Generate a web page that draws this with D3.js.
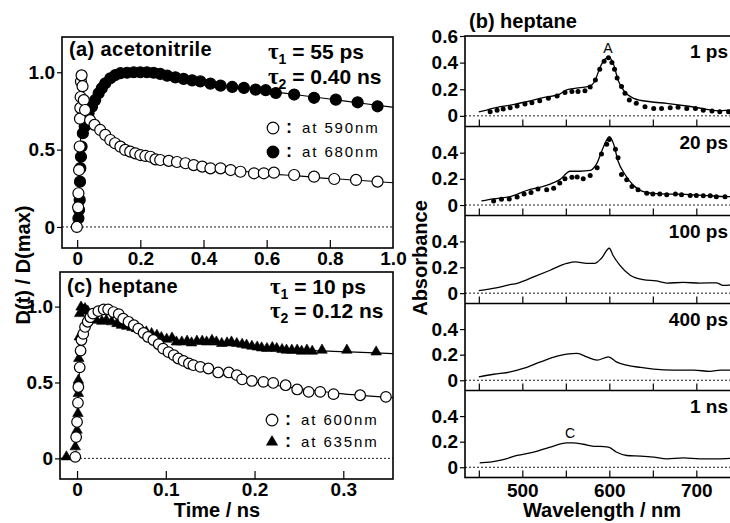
<!DOCTYPE html>
<html>
<head>
<meta charset="utf-8">
<script src="https://cdn.jsdelivr.net/npm/d3@7"></script>
<style>
body { margin: 0; background: #fff; }
text { font-family: "Liberation Sans", Arial, sans-serif; }
</style>
</head>
<body>
<div id="chart"></div>
<script>
// ---- panel (a): acetonitrile kinetics ----
var a590T = [-0.001,0.003,0.004,0.006,0.008,0.009,0.010,0.011,0.012,0.014,0.017,0.021,
  0.025,0.041,0.055,0.073,0.089,0.105,0.12,0.137,0.152,0.168,0.184,0.2,0.216,0.232,0.248,0.263,
  0.29,0.316,0.343,0.369,0.396,0.422,0.454,0.486,0.517,0.56,0.591,0.623,0.687,0.75,0.814,0.883,0.951];
var a590V = [0,0.127,0.218,0.368,0.52,0.70,0.77,0.84,0.94,0.98,0.91,0.82,
  0.756,0.69,0.66,0.627,0.595,0.562,0.541,0.519,0.498,0.487,0.476,0.465,0.459,0.454,0.437,0.433,
  0.427,0.42,0.412,0.40,0.39,0.379,0.379,0.368,0.357,0.347,0.347,0.351,0.336,0.325,0.31,0.304,0.293];
var a680T = [0.004,0.006,0.008,0.009,0.010,0.012,0.014,0.018,
  0.024,0.03,0.036,0.047,0.057,0.068,0.078,0.089,0.105,0.121,0.137,0.158,0.179,0.2,0.221,0.242,
  0.263,0.285,0.311,0.337,0.364,0.39,0.422,0.454,0.491,0.528,0.565,0.597,0.629,0.687,0.75,0.819,0.888,0.951];
var a680V = [0.056,0.11,0.175,0.293,0.38,0.454,0.52,0.606,
  0.65,0.70,0.735,0.778,0.82,0.864,0.897,0.929,0.961,0.982,0.994,0.997,1.0,1.0,1.0,0.997,
  0.99,0.978,0.967,0.957,0.948,0.941,0.927,0.914,0.905,0.899,0.888,0.884,0.866,0.856,0.835,0.823,0.806,0.78];
var fitA590T = [0.013,0.03,0.05,0.1,0.2,0.3,0.4,0.5,0.6,0.7,0.8,0.9,1.0];
var fitA590V = [0.98,0.73,0.67,0.57,0.465,0.42,0.39,0.365,0.345,0.33,0.313,0.30,0.286];
var fitA680T = [0.004,0.012,0.03,0.06,0.1,0.15,0.2,0.3,0.4,0.5,0.6,0.7,0.8,0.9,1.0];
var fitA680V = [0,0.6,0.7,0.83,0.95,0.995,1.0,0.972,0.938,0.905,0.88,0.853,0.827,0.80,0.774];

// ---- panel (c): heptane kinetics ----
var c600T = [-0.002,-0.001,0.0,0.001,0.0015,0.003,0.004,0.005,0.007,0.009,0.012,0.015,0.018,0.024,0.03,
  0.035,0.041,0.047,0.052,0.058,0.064,0.069,0.075,0.08,0.086,0.092,0.097,0.103,0.109,0.114,
  0.12,0.126,0.131,0.139,0.148,0.159,0.171,0.18,0.186,0.197,0.21,0.221,0.235,0.248,0.261,0.274,0.289,0.319,0.348];
var c600V = [0.01,0.14,0.24,0.366,0.47,0.6,0.71,0.78,0.82,0.866,0.9,0.93,0.954,0.97,0.982,
  0.982,0.964,0.95,0.92,0.9,0.877,0.855,0.826,0.8,0.78,0.752,0.723,0.70,0.68,0.658,
  0.642,0.625,0.614,0.603,0.592,0.566,0.566,0.548,0.52,0.51,0.504,0.497,0.482,0.454,0.438,0.438,0.423,0.416,0.405];
var c635T = [-0.012,-0.002,0.0,0.001,0.0015,0.0015,0.002,0.0025,0.003,0.0045,0.007,0.009,0.012,0.017,0.022,0.028,
  0.033,0.039,0.045,0.05,0.056,0.062,0.067,0.073,0.078,0.084,0.09,0.095,0.101,0.107,0.112,
  0.118,0.124,0.129,0.135,0.141,0.146,0.152,0.157,0.163,0.169,0.174,0.18,0.186,0.191,0.197,
  0.203,0.208,0.214,0.22,0.225,0.231,0.236,0.242,0.248,0.253,0.259,0.265,0.276,0.304,0.337];
var c635V = [0.01,0.076,0.186,0.296,0.428,0.515,0.658,0.8,0.954,0.997,0.976,0.987,0.971,0.943,0.91,0.903,
  0.91,0.9,0.888,0.877,0.87,0.862,0.855,0.844,0.833,0.822,0.811,0.796,0.785,0.793,0.767,
  0.767,0.772,0.761,0.772,0.772,0.767,0.778,0.767,0.757,0.761,0.767,0.757,0.752,0.746,0.739,
  0.734,0.728,0.724,0.73,0.724,0.717,0.713,0.713,0.713,0.706,0.713,0.706,0.713,0.713,0.701];
var fitC600T = [-0.019,-0.002,0.003,0.01,0.02,0.032,0.04,0.06,0.08,0.1,0.12,0.15,0.2,0.25,0.3,0.356];
var fitC600V = [0,0,0.6,0.88,0.96,0.985,0.97,0.89,0.80,0.715,0.645,0.575,0.505,0.46,0.425,0.40];
var fitC635T = [0.1,0.12,0.15,0.2,0.25,0.3,0.356];
var fitC635V = [0.79,0.772,0.76,0.74,0.715,0.703,0.69];

// ---- panel (b): heptane spectra ----
var specLabels = ["1 ps", "20 ps", "100 ps", "400 ps", "1 ns"];
var s1L = [450,459,466,486,505,524,543,551,562,578,584,589,597,600,605,610,616,628,647,666,689,712,727,739,760];
var s1V = [0.03,0.043,0.056,0.081,0.106,0.137,0.163,0.195,0.208,0.226,0.27,0.36,0.436,0.44,0.385,0.27,0.195,0.132,0.106,0.094,0.074,0.049,0.038,0.043,0.045];
var d1L = [463,471,478,486,494,503,511,520,530,540,549,557,564,572,578,584,589,594,599,603,606,609,614,618,623,631,641,651,660,670,679,689,699,708,718,727,737,746,756];
var d1V = [0.03,0.043,0.051,0.061,0.074,0.089,0.099,0.114,0.132,0.15,0.175,0.183,0.183,0.188,0.216,0.27,0.35,0.41,0.437,0.40,0.35,0.284,0.22,0.17,0.119,0.094,0.068,0.056,0.056,0.061,0.064,0.056,0.056,0.043,0.036,0.03,0.03,0.03,0.03];
var s2L = [453,467,486,505,524,532,543,555,566,578,585,593,600,605,610,618,627,639,658,677,697,716,735,760];
var s2V = [0.031,0.047,0.064,0.111,0.142,0.16,0.194,0.258,0.258,0.264,0.31,0.44,0.522,0.465,0.336,0.233,0.155,0.103,0.085,0.083,0.078,0.07,0.064,0.062];
var d2L = [467,476,485,494,502,510,518,528,536,543,549,557,563,570,578,586,591,597,600,607,610,614,620,626,633,643,650,658,666,676,683,693,700,708,716,723,733,743,753];
var d2V = [0.031,0.044,0.047,0.062,0.085,0.095,0.122,0.116,0.129,0.168,0.2,0.212,0.215,0.2,0.225,0.285,0.39,0.465,0.5,0.426,0.362,0.233,0.194,0.142,0.116,0.09,0.085,0.085,0.078,0.085,0.078,0.072,0.072,0.07,0.07,0.064,0.064,0.064,0.062];
var s3L = [450,470,482,495,513,532,551,561,574,583,591,600,604,612,624,639,654,666,685,704,723,731,745,760];
var s3V = [0.02,0.04,0.06,0.078,0.125,0.177,0.23,0.242,0.23,0.23,0.27,0.347,0.295,0.216,0.138,0.104,0.094,0.078,0.083,0.078,0.08,0.06,0.065,0.065];
var s4L = [450,467,486,501,521,540,551,563,574,586,599,608,620,636,651,674,697,716,728,745,760];
var s4V = [0.026,0.047,0.065,0.092,0.144,0.189,0.205,0.21,0.183,0.157,0.183,0.144,0.118,0.1,0.087,0.079,0.079,0.07,0.08,0.078,0.078];
var s5L = [451,463,478,494,513,532,551,558,570,582,589,599,608,620,636,651,666,685,704,723,745,760];
var s5V = [0.035,0.04,0.06,0.092,0.119,0.158,0.19,0.19,0.18,0.164,0.164,0.158,0.119,0.092,0.087,0.079,0.066,0.073,0.066,0.066,0.07,0.07];

var tauA = ["55 ps", "0.40 ns"];
var tauC = ["10 ps", "0.12 ns"];

var FONT = "Liberation Sans, Arial, sans-serif";
var svg = d3.select("#chart").append("svg").attr("width", 730).attr("height", 523).style("display", "block");

function zip(xs, ys) {
  return xs.map(function(x, i) { return [x, ys[i]]; });
}

function frame(x0, y0, x1, y1) {
  svg.append("rect").attr("x", x0).attr("y", y0).attr("width", x1 - x0).attr("height", y1 - y0)
    .attr("fill", "none").attr("stroke", "#000").attr("stroke-width", 1.6);
}

function styleAxis(g, size) {
  g.select(".domain").remove();
  g.attr("font-family", FONT).attr("font-size", size).attr("font-weight", "bold");
  g.selectAll("line").attr("stroke-width", 1.2);
  g.selectAll("text").attr("fill", "#000");
}

function fmtY(d) { return d === 0 ? "0" : d3.format(".1f")(d); }

function yAxis(scale, x, vals) {
  svg.append("g").attr("transform", "translate(" + x + ",0)")
    .call(d3.axisLeft(scale).tickValues(vals).tickSize(5).tickPadding(2).tickFormat(fmtY))
    .call(styleAxis, 19);
}

function xTicks(scale, y, vals, len) {
  svg.append("g").attr("transform", "translate(0," + y + ")")
    .call(d3.axisTop(scale).tickValues(vals).tickSize(len).tickFormat(""))
    .call(styleAxis, 19);
}

function xLabels(scale, y, vals, fmt, pad) {
  svg.append("g").attr("transform", "translate(0," + y + ")")
    .call(d3.axisBottom(scale).tickValues(vals).tickSize(0).tickPadding(pad).tickFormat(fmt))
    .call(styleAxis, 19);
}

function zeroLine(xs, ys) {
  svg.append("line").attr("x1", xs.range()[0]).attr("x2", xs.range()[1])
    .attr("y1", ys(0)).attr("y2", ys(0))
    .attr("stroke", "#000").attr("stroke-width", 0.9).attr("stroke-dasharray", "2,2");
}

function fitLine(xs, ys, data) {
  svg.append("path").datum(data)
    .attr("d", d3.line().x(function(d) { return xs(d[0]); }).y(function(d) { return ys(d[1]); }).curve(d3.curveMonotoneX))
    .attr("fill", "none").attr("stroke", "#000").attr("stroke-width", 1.1);
}

function circles(xs, ys, data, r, filled) {
  svg.append("g").selectAll("circle").data(data).enter().append("circle")
    .attr("cx", function(d) { return xs(d[0]); }).attr("cy", function(d) { return ys(d[1]); })
    .attr("r", r).attr("fill", filled ? "#000" : "#fff").attr("stroke", "#000").attr("stroke-width", 1.2);
}

function triangles(xs, ys, data, size) {
  var sym = d3.symbol().type(d3.symbolTriangle).size(size);
  svg.append("g").selectAll("path").data(data).enter().append("path")
    .attr("d", sym)
    .attr("transform", function(d) { return "translate(" + xs(d[0]) + "," + ys(d[1]) + ")"; })
    .attr("fill", "#000").attr("stroke", "#000").attr("stroke-width", 0.6);
}

function label(x, y, txt, size, weight, anchor) {
  return svg.append("text").attr("x", x).attr("y", y).attr("font-size", size)
    .attr("font-weight", weight || "bold").attr("text-anchor", anchor || "start").attr("fill", "#000").text(txt);
}

function tau(x, y, idx, rest) {
  var t = svg.append("text").attr("x", x).attr("y", y).attr("font-size", 21).attr("font-weight", "bold").attr("fill", "#000");
  t.append("tspan").attr("font-family", "Liberation Serif, serif").attr("font-size", 23).text("τ");
  t.append("tspan").attr("font-size", 14).attr("dy", 5).text(idx);
  t.append("tspan").attr("dy", -5).text(" = " + rest);
}

function legendItem(x, y, mark, txt) {
  if (mark === "open" || mark === "filled") {
    svg.append("circle").attr("cx", x).attr("cy", y).attr("r", 5.8)
      .attr("fill", mark === "filled" ? "#000" : "#fff").attr("stroke", "#000").attr("stroke-width", 1.2);
  } else {
    svg.append("path").attr("d", d3.symbol().type(d3.symbolTriangle).size(64)())
      .attr("transform", "translate(" + x + "," + y + ")").attr("fill", "#000");
  }
  label(x + 13, y + 5, ":", 18, "bold");
  label(x + 29, y + 5, txt, 15, "normal").attr("letter-spacing", 1.9);
}

// ================= panel (a) =================
var ax = d3.scaleLinear().domain([-0.048, 1.0]).range([62, 393]);
var ay = d3.scaleLinear().domain([-0.136, 1.228]).range([248, 37]);
zeroLine(ax, ay);
fitLine(ax, ay, zip(fitA590T, fitA590V));
fitLine(ax, ay, zip(fitA680T, fitA680V));
circles(ax, ay, zip(a680T, a680V), 5.5, true);
circles(ax, ay, zip(a590T, a590V), 5.5, false);
frame(62, 37, 393, 248);
yAxis(ay, 62, [0, 0.5, 1.0]);
xTicks(ax, 248, [0, 0.2, 0.4, 0.6, 0.8], 8);
xLabels(ax, 248, [0, 0.2, 0.4, 0.6, 0.8, 1.0], fmtY, 3);
label(69, 56, "(a) acetonitrile", 20).attr("letter-spacing", 0.4);
tau(268, 59, "1", tauA[0]);
tau(268, 84, "2", tauA[1]);
legendItem(273, 128, "open", "at 590nm");
legendItem(273, 152, "filled", "at 680nm");

// ================= panel (c) =================
var cx = d3.scaleLinear().domain([-0.0192, 0.356]).range([60, 393]);
var cy = d3.scaleLinear().domain([-0.136, 1.228]).range([479, 272]);
zeroLine(cx, cy);
fitLine(cx, cy, zip(fitC600T, fitC600V));
fitLine(cx, cy, zip(fitC635T, fitC635V));
triangles(cx, cy, zip(c635T, c635V), 48);
circles(cx, cy, zip(c600T, c600V), 5.3, false);
frame(60, 272, 393, 479);
yAxis(cy, 60, [0, 0.5, 1.0]);
xTicks(cx, 479, [0, 0.1, 0.2, 0.3], 8);
xLabels(cx, 479, [0, 0.1, 0.2, 0.3], fmtY, 4);
label(67, 293, "(c) heptane", 20).attr("letter-spacing", 0.4);
tau(270, 294, "1", tauC[0]);
tau(270, 318, "2", tauC[1]);
legendItem(272, 420, "open", "at 600nm");
legendItem(272, 442, "tri", "at 635nm");

// ================= panel (b) =================
var bx = d3.scaleLinear().domain([434.1, 773.2]).range([465, 760]);
var subTops = [36, 126.5, 215.5, 303.5, 390.5, 477.5];
var solids = [zip(s1L, s1V), zip(s2L, s2V), zip(s3L, s3V), zip(s4L, s4V), zip(s5L, s5V)];
var dots = [zip(d1L, d1V), zip(d2L, d2V), null, null, null];
var lineGen = d3.line().curve(d3.curveMonotoneX);

solids.forEach(function(spec, i) {
  var top = subTops[i], bot = subTops[i + 1];
  var by = d3.scaleLinear().domain([-0.08, 0.6]).range([bot, top]);
  zeroLine(bx, by);
  lineGen.x(function(d) { return bx(d[0]); }).y(function(d) { return by(d[1]); });
  svg.append("path").datum(spec).attr("d", lineGen)
    .attr("fill", "none").attr("stroke", "#000").attr("stroke-width", 1.3).attr("stroke-linejoin", "round");
  if (dots[i]) {
    svg.append("g").selectAll("circle").data(dots[i]).enter().append("circle")
      .attr("cx", function(d) { return bx(d[0]); }).attr("cy", function(d) { return by(d[1]); })
      .attr("r", 2.5).attr("fill", "#000");
  }
  yAxis(by, 465, i === 0 ? [0, 0.2, 0.4, 0.6] : [0, 0.2, 0.4]);
  xTicks(bx, bot, [450, 500, 550, 600, 650, 700, 750], 7);
  label(728, top + 22, specLabels[i], 19, "bold", "end");
  if (i > 0) {
    svg.append("line").attr("x1", 465).attr("x2", 760).attr("y1", top).attr("y2", top)
      .attr("stroke", "#000").attr("stroke-width", 1.6);
  }
});
frame(465, 36, 760, 477.5);
xLabels(bx, 477.5, [500, 600, 700], d3.format("d"), 6);
label(469, 28, "(b) heptane", 20);
label(608, 53, "A", 14, "normal", "middle");
label(570, 438, "C", 14, "normal", "middle");

// ================= axis titles =================
label(217, 517, "Time / ns", 20, "bold", "middle");
label(602, 517, "Wavelength / nm", 20, "bold", "middle");
label(0, 0, "D(t) / D(max)", 20, "bold", "middle").attr("transform", "translate(30,265) rotate(-90)");
label(0, 0, "Absorbance", 20, "bold", "middle").attr("transform", "translate(427,258) rotate(-90)");
</script>
</body>
</html>
